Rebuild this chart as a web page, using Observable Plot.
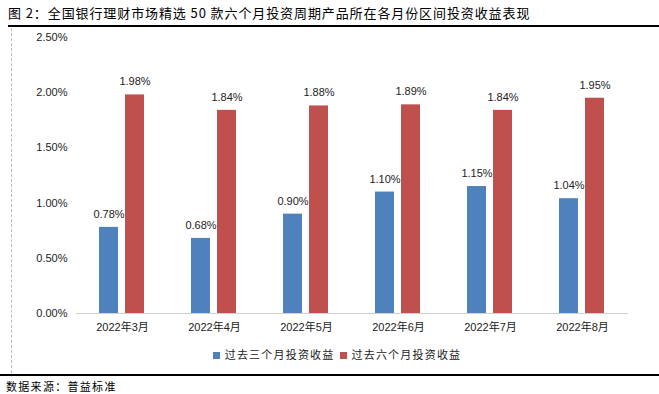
<!DOCTYPE html>
<html><head><meta charset="utf-8">
<script src="https://cdn.jsdelivr.net/npm/d3@7"></script>
<script src="https://cdn.jsdelivr.net/npm/@observablehq/plot@0.6"></script>
<style>
body{margin:0;background:#fff;width:659px;height:394px;overflow:hidden;position:relative;font-family:"Liberation Sans","Noto Sans CJK SC",sans-serif;}
#title{position:absolute;left:8px;top:3px;font-size:13px;letter-spacing:0.9px;color:#000;font-family:"Noto Sans CJK SC",sans-serif;white-space:nowrap;}
#topline{position:absolute;left:8px;right:0;top:25px;height:0;border-top:2px solid #000;}
#vline{position:absolute;left:11px;top:28px;height:345px;border-left:1px dashed #bbb;}
#chart{position:absolute;left:0;top:28px;}
#legend{position:absolute;left:0;width:659px;top:346px;text-align:center;font-size:11px;letter-spacing:1.2px;font-family:"Noto Sans CJK SC",sans-serif;color:#222;padding-left:10px;box-sizing:border-box;}
#legend span.sw{display:inline-block;width:7px;height:7px;margin:0 5px 0 5px;vertical-align:0px;}
#botline{position:absolute;left:0;right:0;top:374px;border-top:2px solid #000;}
#source{position:absolute;left:6px;top:378px;font-size:11px;letter-spacing:1.3px;font-family:"Noto Sans CJK SC",sans-serif;color:#000;}
</style></head>
<body>
<div id="title">图 2：全国银行理财市场精选 50 款六个月投资周期产品所在各月份区间投资收益表现</div>
<div id="topline"></div>
<div id="vline"></div>
<div id="chart"></div>
<div id="legend"></div>
<div id="botline"></div>
<div id="source">数据来源：普益标准</div>
<script>
const months = ["2022年3月","2022年4月","2022年5月","2022年6月","2022年7月","2022年8月"];
const seriesNames = ["过去三个月投资收益","过去六个月投资收益"];
const past3 = [0.78,0.68,0.90,1.10,1.15,1.04];
const past6 = [1.98,1.84,1.88,1.89,1.84,1.95];
const colors = ["#4F81BD","#C0504D"];
const yTicks = [0,0.5,1.0,1.5,2.0,2.5];

const data = [];
months.forEach((m,i)=>{
  data.push({month:m, series:seriesNames[0], value:past3[i]});
  data.push({month:m, series:seriesNames[1], value:past6[i]});
});

const chart = Plot.plot({
  width:659, height:316,
  marginLeft:74, marginRight:29, marginTop:9, marginBottom:31,
  style:{fontFamily:'"Liberation Sans","Noto Sans CJK SC",sans-serif', fontSize:"11px", color:"#222", background:"transparent"},
  fx:{domain:months, padding:0, label:null, axis:"bottom", tickSize:0, tickPadding:10},
  x:{domain:seriesNames, paddingInner:0.26, paddingOuter:0.84, axis:null},
  y:{domain:[0,2.5], ticks:yTicks, tickFormat:d=>d.toFixed(2)+"%", tickSize:0, tickPadding:9, label:null},
  color:{domain:seriesNames, range:colors},
  marks:[
    Plot.barY(data,{fx:"month", x:"series", y:"value", fill:"series"}),
    Plot.text(data,{fx:"month", x:"series", y:"value", text:d=>d.value.toFixed(2)+"%", dy:-13, fill:"#222", fontSize:11}),
    Plot.ruleY([0],{stroke:"#d0d0d0", strokeWidth:1})
  ]
});
document.getElementById("chart").appendChild(chart);

const lg = document.getElementById("legend");
seriesNames.forEach((s,i)=>{
  const sw=document.createElement("span"); sw.className="sw"; sw.style.background=colors[i];
  lg.appendChild(sw);
  const t=document.createElement("span"); t.textContent=s; lg.appendChild(t);
});
</script>
</body></html>
